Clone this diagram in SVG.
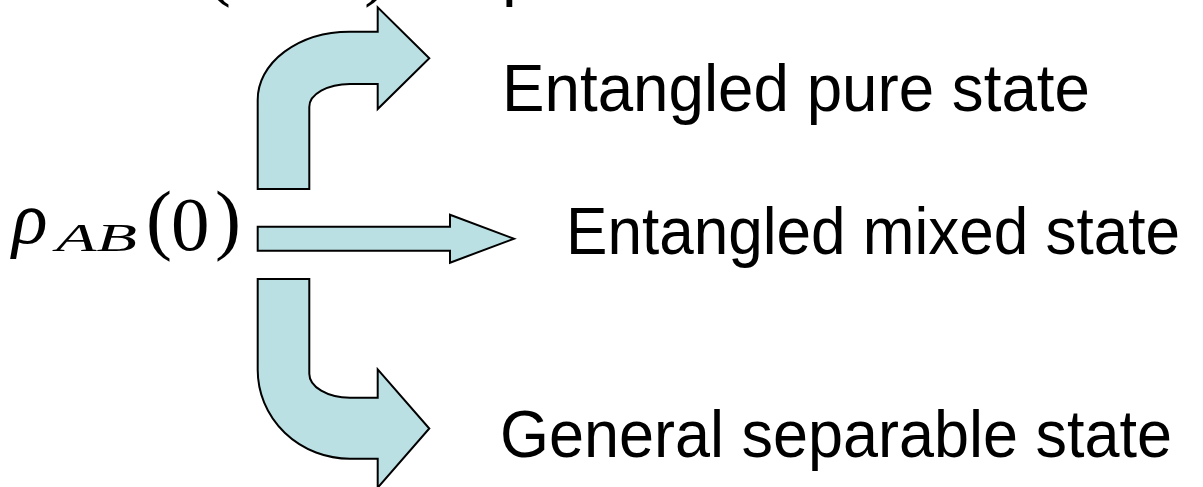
<svg xmlns="http://www.w3.org/2000/svg" width="1203" height="487" viewBox="0 0 1203 487">
<style>
.arrow{fill:#BBE0E3;stroke:#000;stroke-width:2;stroke-linejoin:miter}
.lbl{font-family:"Liberation Sans",Arial,Helvetica,sans-serif;font-size:66px;fill:#000}
.math{font-family:"Liberation Serif","Times New Roman",serif;fill:#000}
.it{font-style:italic}
</style>
<rect width="1203" height="487" fill="#fff"/>
<g id="cutoff-line">
<text class="math" x="205" y="-9" font-size="78">(</text>
<text class="math" x="364" y="-9" font-size="78">)</text>
<text class="lbl" x="502" y="-7">p</text>
</g>
<g id="node-rho">
<text class="math it" x="12" y="243" font-size="74">ρ</text>
<text class="math it" x="56" y="251" font-size="40" textLength="81" lengthAdjust="spacingAndGlyphs">AB</text>
<text class="math" x="146" y="245" font-size="78">(</text>
<text class="math" x="171" y="250" font-size="77">0</text>
<text class="math" x="215" y="245" font-size="78">)</text>
</g>
<g id="connectors">
<path id="arrow-up" class="arrow" d="M257.7 189 L257.7 100 A92 68 0 0 1 350 31.7 L377.7 31.7 L377.7 7.3 L429.3 58.3 L377.7 109 L377.7 84 L350 84 A40.7 23 0 0 0 309.3 107 L309.3 189 Z"/>
<path id="arrow-mid" class="arrow" d="M257.7 226.7 L450 226.7 L450 214.7 L514 238.7 L450 262.7 L450 250.7 L257.7 250.7 Z"/>
<path id="arrow-down" class="arrow" d="M257.7 279 L309.3 279 L309.3 373.7 A40.7 24 0 0 0 350 397.7 L377.7 397.7 L377.7 369.3 L429.3 428.5 L377.7 487.7 L377.7 458.7 L350 458.7 A92.3 88.7 0 0 1 257.7 370 Z"/>
</g>
<g id="node-pure">
<text class="lbl" x="502" y="111" textLength="588" lengthAdjust="spacingAndGlyphs">Entangled pure state</text>
</g>
<g id="node-mixed">
<text class="lbl" x="566" y="254" textLength="614" lengthAdjust="spacingAndGlyphs">Entangled mixed state</text>
</g>
<g id="node-separable">
<text class="lbl" x="500" y="457" textLength="672" lengthAdjust="spacingAndGlyphs">General separable state</text>
</g>
</svg>
